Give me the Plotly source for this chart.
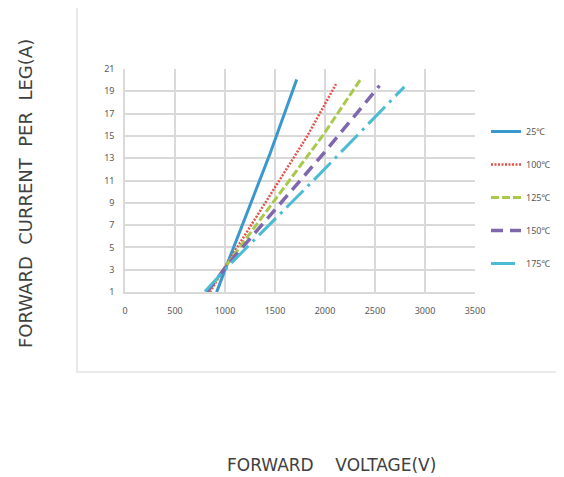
import plotly.graph_objects as go

# Data
v_25 = [917, 1030, 1450, 1717]
i_25 = [1.0, 3.7, 13.4, 20.05]
v_100 = [850, 1030, 1817, 2110]
i_100 = [1.0, 3.7, 14.9, 19.65]
v_125 = [830, 1030, 1983, 2350]
i_125 = [1.0, 3.6, 15.1, 20.0]
v_150 = [820, 1030, 1983, 2545]
i_150 = [1.0, 3.5, 13.4, 19.5]
v_175 = [800, 1030, 1917, 2793]
i_175 = [1.05, 3.3, 11.3, 19.4]

series_names = ["25℃", "100℃", "125℃", "150℃", "175℃"]
x_ticks = [0, 500, 1000, 1500, 2000, 2500, 3000, 3500]
y_ticks = [1, 3, 5, 7, 9, 11, 13, 15, 17, 19, 21]

colors = ["#3a97d0", "#e5504a", "#a8c94a", "#7f67ad", "#4bbcd3"]
dashes = ["solid", "2px,1.5px", "8px,3px", "12px,7px", "24px,6px,3px,6px"]
widths = [3, 2.5, 3, 3.5, 3]

fig = go.Figure()
data = [(v_25, i_25), (v_100, i_100), (v_125, i_125), (v_150, i_150), (v_175, i_175)]
for k, (vx, iy) in enumerate(data):
    fig.add_trace(go.Scatter(
        x=vx, y=iy, mode="lines", name=series_names[k],
        legendgroup=str(k),
        line=dict(color=colors[k], dash=dashes[k], width=widths[k]),
    ))

# page has an 8px body margin: plot area on page spans x 125..475, y 69..292
OFF = 8
L, T = 125 - OFF, 69 - OFF
PW, PH = 350, 223
W, H = 564 - OFF, 477 - OFF

def px(xp):
    return (xp - 125) / PW

def py(yp):
    return (292 - yp) / PH

grid = "#d9d9d9"
tickfont = dict(family="Noto Sans", size=9, color="#595959")
sp2 = "&nbsp;" * 2
sp4 = "&nbsp;" * 4
fig.update_layout(
    width=W, height=H,
    margin=dict(l=L, r=W - L - PW, t=T, b=H - T - PH, autoexpand=False),
    plot_bgcolor="white", paper_bgcolor="white",
    showlegend=True,
    legend=dict(x=px(486), y=py(117), xanchor="left", yanchor="top",
                font=dict(family="Noto Sans", size=9, color="#595959"),
                tracegroupgap=14, itemwidth=30, bgcolor="rgba(0,0,0,0)"),
    xaxis=dict(range=[0, 3500], tickvals=x_ticks, showgrid=True, gridcolor=grid,
               gridwidth=1.5, zeroline=False, showline=True, linecolor=grid,
               linewidth=1.5, tickfont=tickfont, ticks="", ticklabelstandoff=9,
               fixedrange=True),
    yaxis=dict(range=[1, 21], tickvals=y_ticks, showgrid=True, gridcolor=grid,
               gridwidth=1.5, zeroline=False, showline=True, linecolor=grid,
               linewidth=1.5, tickfont=tickfont, ticks="", ticklabelstandoff=7,
               fixedrange=True),
    shapes=[dict(type="rect", xref="paper", yref="paper",
                 x0=px(77), x1=px(563), y0=py(372), y1=py(6),
                 line=dict(color="#e3e3e3", width=1.5), layer="below")],
    annotations=[
        dict(text="FORWARD" + sp2 + "CURRENT" + sp2 + "PER" + sp2 + "LEG(A)",
             xref="paper", yref="paper", x=px(25), y=py(194),
             xanchor="center", yanchor="middle",
             textangle=-90, showarrow=False,
             font=dict(family="DejaVu Sans", size=18, color="#404040")),
        dict(text="FORWARD" + sp4 + "VOLTAGE(V)",
             xref="paper", yref="paper", x=px(331), y=py(464.5),
             xanchor="center", yanchor="middle",
             showarrow=False,
             font=dict(family="DejaVu Sans", size=17, color="#404040")),
    ],
)

fig.write_html("out.html")
